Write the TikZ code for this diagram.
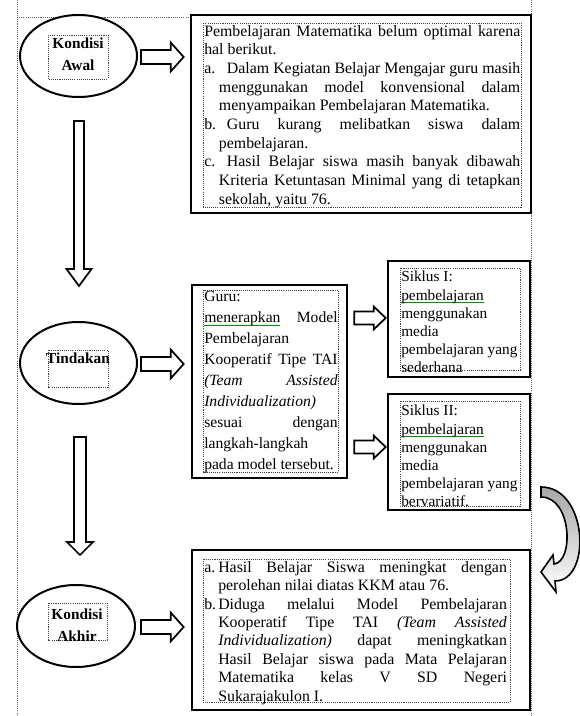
\documentclass[tikz,border=0pt]{standalone}
\usepackage{fontspec}
\setmainfont{Liberation Serif}
\usetikzlibrary{shapes.geometric,calc,fit}
\tolerance=9999 \hbadness=10000 \vbadness=10000 \hfuzz=4pt
\newcommand\gul[1]{\leavevmode\setbox0\hbox{#1}\rlap{\color{green!55!black}\rule[-2.3pt]{\wd0}{0.5pt}}\box0\relax}
\newcommand\itm[3]{\par\noindent\hangindent=#3\hangafter=1\makebox[#2][l]{#1}}
\newcommand\harrow[5]{\draw[blk] ($(#1)+(0,#3)$) -- ($(#2)+(-#5,#3)$) -- ($(#2)+(-#5,#4)$) -- (#2) -- ($(#2)+(-#5,-#4)$) -- ($(#2)+(-#5,-#3)$) -- ($(#1)+(0,-#3)$) -- cycle;}
\newcommand\varrow[5]{\draw[blk] ($(#1)+(#3,0)$) -- ($(#2)+(#3,-#5)$) -- ($(#2)+(#4,-#5)$) -- (#2) -- ($(#2)+(-#4,-#5)$) -- ($(#2)+(-#3,-#5)$) -- ($(#1)+(-#3,0)$) -- cycle;}
\tikzset{
 bigbox/.style={draw=black, line width=2pt, fill=white, inner sep=0pt},
 ell/.style={ellipse, draw=black, line width=1.5pt, fill=white, inner sep=0pt},
 dotbox/.style={draw=black!75, line width=0.6pt, dash pattern=on 0.8pt off 0.8pt},
 frame/.style={draw=black!60, line width=0.6pt, dash pattern=on 0.8pt off 0.8pt},
 blk/.style={draw=black, line width=1.3pt, fill=white, line join=miter},
 txt/.style={inner sep=0pt, anchor=north west},
 lbl/.style={inner sep=0pt, font=\fontsize{11.5}{16.5}\selectfont\bfseries, align=center},
}
\begin{document}
\begin{tikzpicture}[x=0.75pt,y=-0.75pt]
\useasboundingbox (0,0) rectangle (580,716);
% canvas frame
\draw[frame] (17,0) -- (17,716);
\draw[frame] (531,0) -- (531,716);
\draw[frame] (17,17) -- (531,17);

% ellipses
\node[ell, minimum width=87.75pt, minimum height=61.5pt] (ka) at (78.5,56) {};
\node[ell, minimum width=87.75pt, minimum height=61.5pt] (td) at (78.5,363) {};
\node[ell, minimum width=88.5pt, minimum height=61.5pt] (kh) at (76,626) {};
\draw[dotbox] (48,35) rectangle (108,79);
\draw[dotbox] (48,350) rectangle (108,387);
\draw[dotbox] (48,603) rectangle (107,640);
\node[lbl] (kal) at (78,54) {Kondisi\\Awal};
\node[lbl] (tdl) at (78,358) {Tindakan};
\node[lbl] (khl) at (77,625) {Kondisi\\Akhir};

% boxes
\node[bigbox, fit={(191,15) (531,213)}] (b1) {};
\node[bigbox, fit={(192,285) (347,478)}] (bg) {};
\node[bigbox, fit={(388,261) (530,377)}] (s1) {};
\node[bigbox, fit={(388,394) (530,510)}] (s2) {};
\node[bigbox, fit={(192,550) (530,710)}] (bf) {};
\draw[dotbox] (203,23) rectangle (521,207);
\draw[dotbox] (203,290) rectangle (338,472);
\draw[dotbox] (400,268) rectangle (520,370);
\draw[dotbox] (400,401) rectangle (520,506);
\draw[dotbox] (203,559) rectangle (510,702);

% texts
\node[txt] (t1) at (204,25) {\begin{minipage}{237pt}\fontsize{11.9}{14}\selectfont
Pembelajaran Matematika belum optimal karena\linebreak hal berikut.
\itm{a.}{17pt}{11pt}Dalam Kegiatan Belajar Mengajar guru masih\linebreak menggunakan model konvensional dalam\linebreak menyampaikan Pembelajaran Matematika.
\itm{b.}{17pt}{11pt}Guru kurang melibatkan siswa dalam\linebreak pembelajaran.
\itm{c.}{17pt}{11pt}Hasil Belajar siswa masih banyak dibawah\linebreak Kriteria Ketuntasan Minimal yang di tetapkan\linebreak sekolah, yaitu 76.
\end{minipage}};

\node[txt] (tg) at (204,291) {\begin{minipage}{100pt}\fontsize{11.7}{15.75}\selectfont
Guru:\newline
\gul{menerapkan} Model\linebreak
Pembelajaran\newline
Kooperatif Tipe TAI\linebreak
\textit{(Team Assisted}\linebreak
\textit{Individualization)}\newline
sesuai dengan\linebreak
langkah-langkah\newline
pada model tersebut.
\end{minipage}};

\node[txt] (ts1) at (401,271) {\begin{minipage}{89pt}\fontsize{11.5}{13.6}\selectfont
Siklus I:\newline \gul{pembelajaran}\newline menggunakan\newline media\newline pembelajaran yang\newline sederhana
\end{minipage}};

\node[txt] (ts2) at (401,405) {\begin{minipage}{89pt}\fontsize{11.5}{13.6}\selectfont
Siklus II:\newline \gul{pembelajaran}\newline menggunakan\newline media\newline pembelajaran yang\newline bervariatif.
\end{minipage}};

\node[txt] (tf) at (204,561) {\begin{minipage}{227pt}\fontsize{11.9}{13.8}\selectfont
\itm{a.}{10.5pt}{10.5pt}Hasil Belajar Siswa meningkat dengan\linebreak perolehan nilai diatas KKM atau 76.
\itm{b.}{10.5pt}{10.5pt}Diduga melalui Model Pembelajaran\linebreak Kooperatif Tipe TAI \textit{(Team Assisted}\linebreak \textit{Individualization)} dapat meningkatkan\linebreak Hasil Belajar siswa pada Mata Pelajaran\linebreak Matematika kelas V SD Negeri\linebreak Sukarajakulon I.
\end{minipage}};

% block arrows
\coordinate (a1s) at ($(ka.east)+(3,1)$);
\coordinate (a1e) at ($(ka.east -| b1.west)+(-6,1)$);
\harrow{a1s}{a1e}{7}{14.5}{13}
\coordinate (a2s) at ($(td.east)+(3,1)$);
\coordinate (a2e) at ($(td.east -| bg.west)+(-7,1)$);
\harrow{a2s}{a2e}{7}{14.5}{13}
\coordinate (a3s) at ($(kh.east)+(5,1)$);
\coordinate (a3e) at ($(kh.east -| bf.west)+(-7,1)$);
\harrow{a3s}{a3e}{7}{14.5}{13}
\coordinate (a4s) at ($(bg.east |- s1.west)+(6,-1)$);
\coordinate (a4e) at ($(s1.west)+(-1,-1)$);
\harrow{a4s}{a4e}{6.5}{11.5}{12}
\coordinate (a5s) at ($(bg.east |- s2.west)+(6,-5)$);
\coordinate (a5e) at ($(s2.west)+(-1,-5)$);
\harrow{a5s}{a5e}{6.5}{11.5}{12}
\coordinate (v1s) at ($(ka.south)+(0.5,23)$);
\coordinate (v1e) at ($(td.north)+(0.5,-35)$);
\varrow{v1s}{v1e}{5}{12.5}{17}
\coordinate (v2s) at ($(td.south)+(1.5,32)$);
\coordinate (v2e) at ($(td.south |- kh.north)+(1.5,-29)$);
\varrow{v2s}{v2e}{6}{13}{13}

% curved arrow
\draw[line width=1.2pt, draw=black, top color=black!35, middle color=black!8, bottom color=white]
 (541,487) .. controls (588,487) and (592,581) .. (555,581) -- (556,592) -- (541,572) -- (553,555) -- (554,564)
 .. controls (574,562) and (572,497) .. (541,497) -- cycle;
\end{tikzpicture}
\end{document}
